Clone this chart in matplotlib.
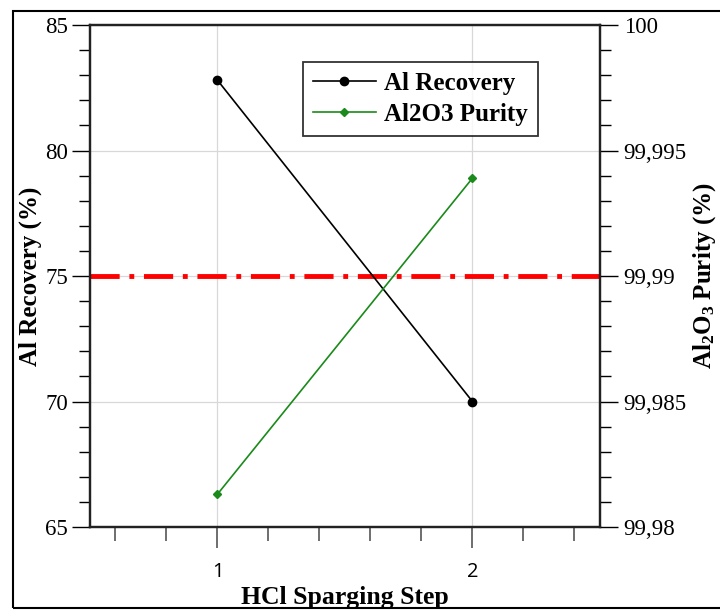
import matplotlib
matplotlib.use("Agg")
import matplotlib.pyplot as plt
from matplotlib.ticker import MultipleLocator, FuncFormatter
from matplotlib.patches import Rectangle

steps = [1, 2]
al_recovery = [82.8, 70.0]
al2o3_purity = [99.98131, 99.99390]
target_recovery = 75.0

serif = ["Liberation Serif", "DejaVu Serif"]
plt.rcParams["mathtext.fontset"] = "custom"
plt.rcParams["mathtext.rm"] = "Liberation Serif:bold"
plt.rcParams["mathtext.bf"] = "Liberation Serif:bold"
plt.rcParams["mathtext.it"] = "Liberation Serif:bold"

fig = plt.figure(figsize=(7.2, 6.1), dpi=100)
ax = fig.add_axes([0.125, 0.136, 0.7083, 0.823])
ax2 = ax.twinx()

ax.set_xlim(0.5, 2.5)
ax.set_ylim(65, 85)
ax2.set_ylim(99.98, 100.0)

ax.grid(True, which="major", color="#d8d8d8", linewidth=0.9)
ax.set_axisbelow(True)

l1, = ax.plot(steps, al_recovery, color="black", linewidth=1.2, marker="o",
              markersize=6, label="Al Recovery", zorder=3)
ax.axhline(target_recovery, color="#ff0000", linewidth=3.5,
           dashes=(6, 2, 1, 2), zorder=2)
l2, = ax2.plot(steps, al2o3_purity, color="#1a8a1a", linewidth=1.2, marker="D",
               markersize=4, label="Al2O3 Purity", zorder=3)

ax.xaxis.set_major_locator(MultipleLocator(1))
ax.xaxis.set_minor_locator(MultipleLocator(0.2))
ax.yaxis.set_major_locator(MultipleLocator(5))
ax.yaxis.set_minor_locator(MultipleLocator(1))
ax2.yaxis.set_major_locator(MultipleLocator(0.005))
ax2.yaxis.set_minor_locator(MultipleLocator(0.001))

def fmt_right(v, pos):
    s = ("%.3f" % v).rstrip("0").rstrip(".")
    return s.replace(".", ",")
ax2.yaxis.set_major_formatter(FuncFormatter(fmt_right))

ax.tick_params(axis="x", which="major", direction="out", length=15, width=1.2,
               color="#555555", pad=10, labelsize=14.5)
ax.tick_params(axis="x", which="minor", direction="out", length=10, width=1.2,
               color="#555555")
ax.tick_params(axis="y", which="major", direction="out", length=13, width=1.0,
               pad=3, labelsize=16.5)
ax.tick_params(axis="y", which="minor", direction="out", length=8, width=1.0)
ax2.tick_params(axis="y", which="major", direction="out", length=13, width=1.0,
                pad=4, labelsize=16.5)
ax2.tick_params(axis="y", which="minor", direction="out", length=8, width=1.0)
ax.tick_params(axis="x", top=False)

for lab in ax.get_xticklabels():
    lab.set_family(["Open Sans", "DejaVu Sans"])
for lab in ax.get_yticklabels() + ax2.get_yticklabels():
    lab.set_family(serif)

for a in (ax, ax2):
    for sp in a.spines.values():
        sp.set_linewidth(1.6)
        sp.set_color("#222222")

ax.set_xlabel("HCl Sparging Step", family=serif, fontsize=18.5, fontweight="bold",
              labelpad=3)
ax.set_ylabel("Al Recovery (%)", family=serif, fontsize=18, fontweight="bold",
              labelpad=2)
ax2.set_ylabel(r"$\mathbf{Al_2O_3}$ Purity (%)", family=serif, fontsize=18,
               fontweight="bold", labelpad=3)

leg = ax2.legend(handles=[l1, l2], loc="upper left",
                 bbox_to_anchor=(0.418, 0.926), frameon=True, fancybox=False,
                 edgecolor="black", prop={"family": serif, "weight": "bold",
                                          "size": 18},
                 handlelength=2.5, borderpad=0.4, labelspacing=0.3,
                 handletextpad=0.35, borderaxespad=0.0, numpoints=1)
leg.get_frame().set_linewidth(1.3)

fig.patches.append(Rectangle((0.018, 0.004), 1.0, 0.978, transform=fig.transFigure,
                             fill=False, edgecolor="black", linewidth=1.5))

fig.savefig("out.png", dpi=100)
